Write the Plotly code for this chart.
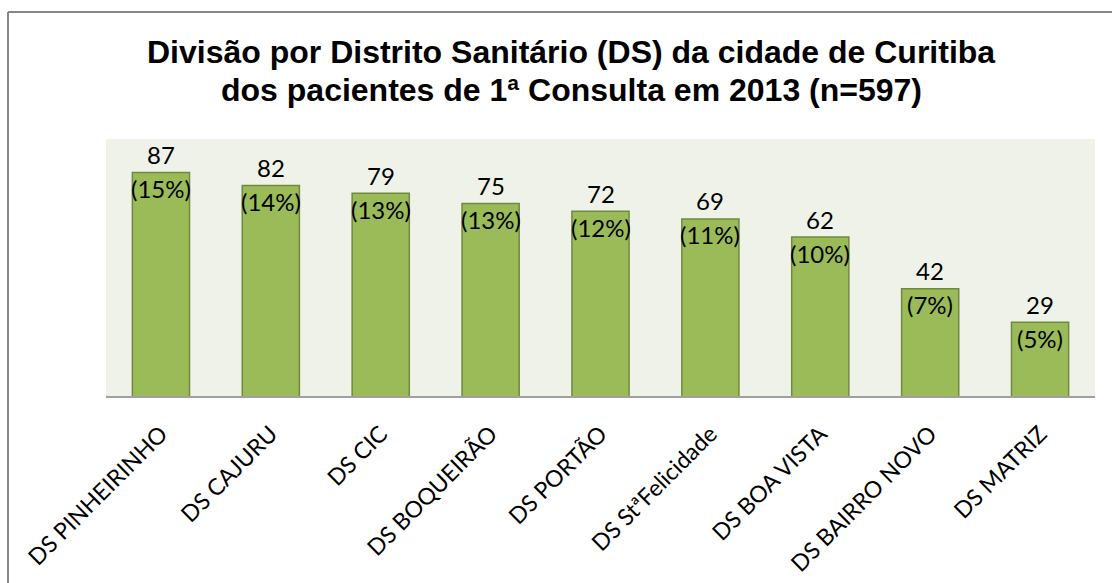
import plotly.graph_objects as go

categories = ["DS PINHEIRINHO", "DS CAJURU", "DS CIC", "DS BOQUEIRÃO", "DS PORTÃO",
              "DS StªFelicidade", "DS BOA VISTA", "DS BAIRRO NOVO", "DS MATRIZ"]
counts = [87, 82, 79, 75, 72, 69, 62, 42, 29]
percents = [15, 14, 13, 13, 12, 11, 10, 7, 5]
title_lines = ["Divisão por Distrito Sanitário (DS) da cidade de Curitiba",
               "dos pacientes de 1ª Consulta em 2013 (n=597)"]

W, H = 1112, 583
L, R, T, B = 106, 17, 139, 186
pw, ph = W - L - R, H - T - B

def xp(px):
    return (px - L) / pw

def yp(py):
    return (H - B - py) / ph

fig = go.Figure()
fig.add_trace(go.Bar(
    x=categories, y=counts,
    marker=dict(color="#9BBB59", line=dict(color="#71893F", width=1.5)),
    width=0.52,
    hoverinfo="skip",
))

label_font = dict(family="Lato, Open Sans, sans-serif", size=24, color="#000000")
annotations = []
for c, v, p in zip(categories, counts, percents):
    annotations.append(dict(x=c, y=v, xref="x", yref="y", text=str(v), showarrow=False,
                            yanchor="middle", yshift=18, font=label_font))
    annotations.append(dict(x=c, y=v, xref="x", yref="y", text=f"({p}%)", showarrow=False,
                            yanchor="middle", yshift=-16, font=label_font))

for line, cy in zip(title_lines, [52, 90]):
    annotations.append(dict(
        x=xp(571), y=yp(cy), xref="paper", yref="paper", showarrow=False,
        xanchor="center", yanchor="middle",
        text=f"<b>{line}</b>",
        font=dict(family="Liberation Sans, Arial, sans-serif", size=32, color="#000000"),
    ))

shapes = [
    dict(type="line", xref="paper", yref="paper", x0=xp(8), x1=xp(1112), y0=yp(12), y1=yp(12),
         line=dict(color="#878787", width=2)),
    dict(type="line", xref="paper", yref="paper", x0=xp(8), x1=xp(8), y0=yp(12), y1=yp(583),
         line=dict(color="#878787", width=2)),
    dict(type="line", xref="paper", yref="paper", x0=0, x1=1, y0=0, y1=0,
         line=dict(color="#A0A0A0", width=2)),
]

fig.update_layout(
    width=W, height=H,
    margin=dict(l=L, r=R, t=T, b=B),
    paper_bgcolor="#FFFFFF",
    plot_bgcolor="#EFF2E9",
    showlegend=False,
    annotations=annotations,
    shapes=shapes,
    xaxis=dict(tickangle=-45, showgrid=False, showline=False, ticks="",
               ticklabelstandoff=18, automargin=False,
               tickfont=dict(family="Lato, Open Sans, sans-serif", size=23, color="#000000")),
    yaxis=dict(range=[0, 100], visible=False, showgrid=False, automargin=False),
)

fig.write_html("out.html", config={"displayModeBar": False},
               post_script="document.body.style.margin='0';")
